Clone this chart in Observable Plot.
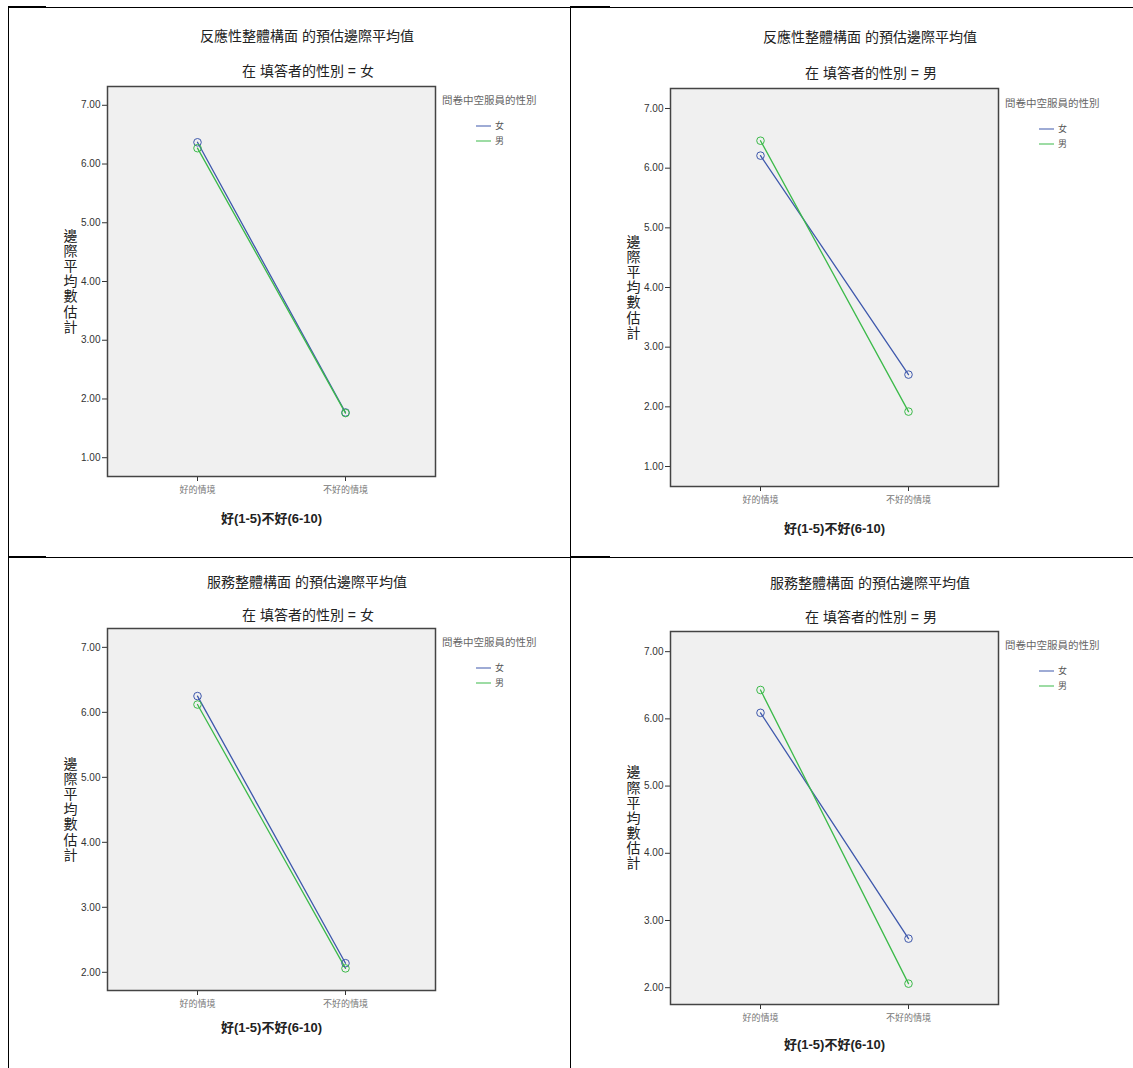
<!DOCTYPE html>
<html><head><meta charset="utf-8">
<script src="https://cdn.jsdelivr.net/npm/d3@7"></script>
<script src="https://cdn.jsdelivr.net/npm/@observablehq/plot@0.6"></script>
<style>
body{margin:0;background:#fff;font-family:"Liberation Sans","Noto Sans CJK TC",sans-serif;}
#page{position:relative;width:1133px;height:1068px;overflow:hidden;}
.abs{position:absolute;}
.title{font-size:14px;color:#222;white-space:nowrap;transform:translate(-50%,-50%);line-height:1;}
.legt{font-size:10.5px;color:#666;white-space:nowrap;transform:translateY(-50%);line-height:1;}
.legi{font-size:9px;color:#555;display:flex;align-items:center;transform:translateY(-50%);line-height:1;}
.sw{width:15px;height:0;border-top:1.5px solid;margin-right:4px;}
.hl{position:absolute;background:#000;}
</style></head><body><div id="page"></div>
<script>
const conditions = ["好的情境","不好的情境"];
const crewGenders = ["女","男"];
const crewColors = ["#3e58ac","#3cba4a"];
const legendTitle = "問卷中空服員的性別";
const xTitle = "好(1-5)不好(6-10)";
const yTitle = "邊際平均數估計";
const chartTitles = ["反應性整體構面 的預估邊際平均值","反應性整體構面 的預估邊際平均值","服務整體構面 的預估邊際平均值","服務整體構面 的預估邊際平均值"];
const respondentGender = ["女","男","女","男"];
const femaleCrew = [[6.37,1.77],[6.21,2.54],[6.25,2.14],[6.09,2.73]];
const maleCrew = [[6.27,1.76],[6.46,1.92],[6.12,2.06],[6.43,2.06]];
const yTicks = [1,2,3,4,5,6,7];
const yDomains = [[0.68,7.32],[0.665,7.335],[1.72,7.29],[1.75,7.3]];

const layout = [
  {l:107,t:86,w:328,h:390,titleY:36,subY:71,legY:100,xt:42},
  {l:670,t:88,w:328,h:398,titleY:37,subY:73,legY:103,xt:42},
  {l:107,t:628,w:328,h:362,titleY:582,subY:615,legY:642,xt:37},
  {l:670,t:631,w:328,h:373,titleY:583,subY:617,legY:645,xt:40}
];

const page = document.getElementById("page");
function div(cls, css, html){const d=document.createElement("div");d.className=cls;Object.assign(d.style,css);if(html!=null)d.innerHTML=html;page.appendChild(d);return d;}

// table borders
[[8,7,1125,1],[8,557,1125,1],[8,7,1,1061],[570,7,1,1061],[8,6,38,2],[570,6,40,2],[8,556,38,2],[570,556,40,2]].forEach(([x,y,w,h])=>div("hl",{left:x+"px",top:y+"px",width:w+"px",height:h+"px"}));

const mL=60,mR=10,mT=10,mB=60;
layout.forEach((L,k)=>{
  const data = [];
  conditions.forEach((c,i)=>{
    data.push({condition:c,crew:crewGenders[0],value:femaleCrew[k][i]});
    data.push({condition:c,crew:crewGenders[1],value:maleCrew[k][i]});
  });
  const dom = yDomains[k];
  const ticks = yTicks.filter(t=>t>=dom[0]&&t<=dom[1]);
  const svg = Plot.plot({
    width: L.w+mL+mR, height: L.h+mT+mB,
    marginLeft:mL, marginRight:mR, marginTop:mT, marginBottom:mB,
    style:{background:"transparent",color:"#333",fontFamily:'"Liberation Sans","Noto Sans CJK TC",sans-serif',overflow:"visible"},
    x:{type:"point",domain:conditions,padding:0.608},
    y:{domain:dom},
    color:{domain:crewGenders,range:crewColors},
    marks:[
      Plot.frame({fill:"#f0f0f0"}),
      Plot.axisY(ticks,{tickFormat:d3.format(".2f"),tickSize:5,tickPadding:2,fontSize:10,fill:"#333",label:null}),
      Plot.axisX({tickSize:5,tickPadding:5,fontSize:9,fill:"#777",label:null}),
      Plot.line(data,{x:"condition",y:"value",z:"crew",stroke:"crew",strokeWidth:1.3}),
      Plot.dot(data,{x:"condition",y:"value",stroke:"crew",r:3.8,strokeWidth:1,fill:"none"}),
      Plot.frame({stroke:"#444",strokeWidth:1.5}),
      Plot.text([yTitle.split("").join("\n")],{text:d=>d,frameAnchor:"left",dx:-37,textAnchor:"middle",lineAnchor:"middle",fontSize:14,lineHeight:1.08,fill:"#222"}),
      Plot.text([xTitle],{text:d=>d,frameAnchor:"bottom",dy:L.xt,lineAnchor:"middle",fontSize:13,fontWeight:"bold",fill:"#222"})
    ]
  });
  svg.style.position="absolute";
  svg.style.left=(L.l-mL)+"px";
  svg.style.top=(L.t-mT)+"px";
  page.appendChild(svg);
  const cx = L.l+200;
  div("abs title",{left:cx+"px",top:L.titleY+"px"},chartTitles[k]);
  div("abs title",{left:(cx+1)+"px",top:L.subY+"px"},"在 填答者的性別 = "+respondentGender[k]);
  div("abs legt",{left:(L.l+L.w+7)+"px",top:L.legY+"px"},legendTitle);
  crewGenders.forEach((g,j)=>{
    const it = div("abs legi",{left:(L.l+L.w+41)+"px",top:(L.legY+26+j*15)+"px"});
    const sw=document.createElement("div");sw.className="sw";sw.style.borderColor=crewColors[j];
    it.appendChild(sw);it.appendChild(document.createTextNode(g));
  });
});
</script></body></html>
